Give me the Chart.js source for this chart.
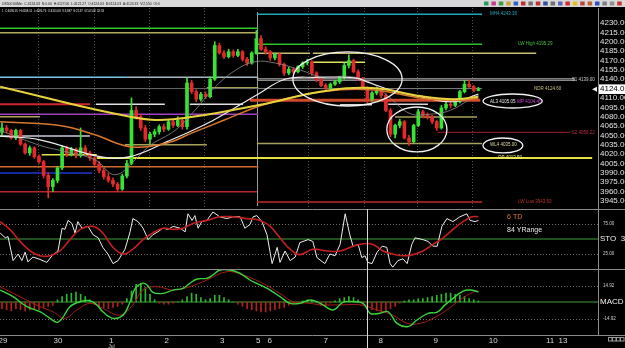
<!DOCTYPE html>
<html lang="en">
<head>
    <meta charset="UTF-8">
    <meta name="viewport" content="width=device-width, initial-scale=1.0">
    <title>US500 60Min</title>
    <script src="https://cdn.jsdelivr.net/npm/chart.js"></script>
    <style>
        body {
            margin: 0;
            background-color: #000;
            width: 625px;
            height: 348px;
            overflow: hidden;
            position: relative;
        }
        canvas {
            position: absolute;
            left: 0;
        }
        #mainChart { top: 0; }
        #stochChart { top: 209px; }
        #macdChart { top: 269px; }
    </style>
</head>
<body>

<canvas id="mainChart" width="625" height="209"></canvas>
<canvas id="stochChart" width="625" height="60"></canvas>
<canvas id="macdChart" width="625" height="79"></canvas>

<script>
    // 60 minute bars, Jun 29 -> Jul 9 (x = bar index on the time axis)
    const opens  = [4055, 4062, 4058, 4046, 4058, 4036, 4022, 4030, 4016, 4008,
                    3986, 3968, 3978, 3998, 4030, 4020, 4028, 4018, 4030, 4022,
                    4014, 4004, 3994, 3984, 3978, 3972, 3964, 3985, 4005, 4090,
                    4080, 4062, 4044, 4052, 4056, 4064, 4060, 4072, 4066, 4074,
                    4064, 4134, 4120, 4108, 4116, 4112, 4140, 4194, 4182, 4176,
                    4184, 4178, 4184, 4172, 4166, 4182, 4205, 4188, 4184, 4174,
                    4180, 4164, 4150, 4156, 4152, 4160, 4166, 4168, 4150, 4140,
                    4130, 4126, 4132, 4136, 4142, 4162, 4170, 4152, 4140, 4126,
                    4108, 4118, 4122, 4114, 4090, 4052, 4066, 4072, 4046, 4040,
                    4066, 4088, 4082, 4080, 4072, 4062, 4094, 4100, 4098, 4104,
                    4120, 4132, 4128, 4122];
    const highs  = [4070, 4066, 4060, 4060, 4060, 4038, 4033, 4032, 4019, 4010,
                    3990, 3981, 4000, 4034, 4033, 4031, 4030, 4062, 4034, 4025,
                    4016, 4008, 3998, 3990, 3982, 3975, 3988, 4010, 4110, 4096,
                    4084, 4066, 4055, 4060, 4067, 4068, 4075, 4075, 4080, 4076,
                    4142, 4138, 4123, 4119, 4120, 4144, 4200, 4198, 4186, 4188,
                    4187, 4188, 4186, 4175, 4184, 4218, 4210, 4192, 4186, 4182,
                    4182, 4166, 4159, 4158, 4162, 4168, 4172, 4170, 4152, 4142,
                    4133, 4134, 4138, 4144, 4166, 4179, 4172, 4155, 4143, 4128,
                    4120, 4127, 4124, 4117, 4093, 4068, 4076, 4074, 4050, 4068,
                    4092, 4090, 4086, 4082, 4074, 4098, 4103, 4104, 4107, 4122,
                    4138, 4139, 4130, 4127];
    const lows   = [4050, 4054, 4044, 4043, 4034, 4020, 4018, 4013, 4005, 3982,
                    3950, 3960, 3974, 3995, 4016, 4017, 4014, 4015, 4019, 4010,
                    4001, 3990, 3980, 3975, 3968, 3960, 3962, 3982, 4003, 4076,
                    4058, 4040, 4036, 4048, 4052, 4056, 4058, 4063, 4064, 4060,
                    4060, 4117, 4104, 4105, 4109, 4110, 4138, 4180, 4173, 4174,
                    4175, 4176, 4169, 4162, 4164, 4180, 4186, 4180, 4170, 4171,
                    4161, 4146, 4147, 4149, 4150, 4157, 4163, 4146, 4136, 4128,
                    4122, 4124, 4130, 4133, 4140, 4158, 4150, 4138, 4124, 4102,
                    4105, 4115, 4110, 4088, 4048, 4046, 4062, 4044, 4034, 4038,
                    4064, 4078, 4076, 4069, 4058, 4060, 4091, 4094, 4096, 4102,
                    4118, 4126, 4120, 4121.27];
    const closes = [4062, 4058, 4046, 4058, 4036, 4022, 4030, 4016, 4008, 3986,
                    3968, 3978, 3998, 4030, 4020, 4028, 4018, 4030, 4022, 4014,
                    4004, 3994, 3984, 3978, 3972, 3964, 3985, 4005, 4090, 4080,
                    4062, 4044, 4052, 4056, 4064, 4060, 4072, 4066, 4074, 4064,
                    4134, 4120, 4108, 4116, 4112, 4140, 4194, 4182, 4176, 4184,
                    4178, 4184, 4172, 4166, 4182, 4205, 4188, 4184, 4174, 4180,
                    4164, 4150, 4156, 4152, 4160, 4166, 4168, 4150, 4140, 4130,
                    4126, 4132, 4136, 4142, 4162, 4170, 4152, 4140, 4126, 4108,
                    4118, 4122, 4114, 4090, 4052, 4066, 4072, 4046, 4040, 4066,
                    4088, 4082, 4080, 4072, 4062, 4094, 4100, 4098, 4104, 4120,
                    4132, 4128, 4122, 4124.03];
    const lastClose = closes[closes.length - 1];

    // moving averages as (bar, price) points
    const maFastX = [-0.4, 8.2, 12.5, 20.1, 24.4, 28.8, 32.0, 37.4, 41.7, 45.6, 50.4, 54.7,
                     59.0, 64.4, 69.8, 74.2, 79.6, 83.9, 88.2, 92.5, 96.9, 101.2, 103.0];
    const maFast  = [4058, 4034, 4026, 4011, 3987, 4011, 4034, 4058, 4090, 4124, 4154, 4168,
                     4166, 4155, 4142, 4145, 4135, 4110, 4085, 4084, 4090, 4108, 4114];
    const maMidX  = [-0.4, 8.2, 21.2, 27.7, 35.7, 45.6, 55.8, 61.2, 67.7, 76.3, 79.6, 83.9, 90.4, 97.5, 103.0];
    const maMid   = [4049, 4043, 4016, 4016, 4040, 4074, 4118, 4140, 4143, 4142, 4134, 4123, 4112, 4104, 4116];
    const maSlowX = [-0.4, 12.5, 20.1, 27.7, 35.7, 41.1, 48.2, 56.9, 69.2, 80.0, 90.4, 97.5, 103.0];
    const maSlow  = [4072, 4066, 4051, 4032, 4038, 4054, 4075, 4100, 4120, 4123, 4110, 4106, 4109];
    const maLongX = [-0.4, 27.7, 37.0, 55.8, 68.8, 80.0, 90.4, 97.5, 103.0];
    const maLong  = [4128, 4080, 4076, 4099, 4120, 4126, 4113, 4108, 4112];

    // stochastic
    const stochKx = [-0.4, 0.7, 1.3, 2.4, 3.5, 4.3, 5.0, 5.6, 6.7, 8.2,
                     9.7, 10.8, 12.1, 13.0, 13.6, 14.3, 15.1, 15.8, 16.4, 17.3,
                     18.6, 19.7, 20.8, 21.8, 22.9, 24.0, 25.1, 26.6, 27.7, 28.3,
                     29.4, 30.5, 31.6, 32.6, 33.7, 34.8, 35.9, 37.0, 38.5, 39.6,
                     40.2, 41.1, 41.7, 42.4, 43.2, 44.3, 45.6, 47.1, 48.6, 49.9,
                     51.5, 52.5, 53.6, 54.3, 55.1, 56.2, 57.3, 58.4, 59.5, 60.1,
                     61.2, 62.3, 63.4, 64.4, 66.2, 67.2, 68.1, 69.8, 70.9, 72.0,
                     73.1, 74.2, 75.2, 75.9, 77.0, 77.8, 78.5, 79.1, 80.0, 81.1,
                     82.2, 83.2, 83.9, 84.5, 85.6, 86.7, 87.6, 88.6, 89.3, 91.0,
                     92.1, 93.2, 94.1, 95.1, 96.2, 97.5, 99.0, 100.5, 101.2, 102.3, 103.0];
    const stochK  = [60, 52, 54, 14, 25, 14, 28, 12, 20, 16,
                     11, 22, 30, 68, 66, 81, 76, 60, 79, 68,
                     71, 57, 52, 36, 25, 9, 14, 33, 62, 84,
                     79, 68, 49, 57, 62, 68, 66, 71, 68, 62,
                     92, 81, 89, 68, 79, 81, 95, 87, 84, 87,
                     87, 68, 74, 87, 89, 79, 57, 9, 36, 11,
                     30, 14, 20, 44, 49, 46, 19, 9, 25, 22,
                     41, 92, 57, 38, 41, 19, 22, 11, 9, 28,
                     38, 36, 9, 3, 14, 17, 9, 41, 52, 49,
                     46, 38, 38, 71, 84, 79, 87, 92, 81, 79, 81];
    const stochDx = [-0.4, 1.7, 3.9, 6.1, 8.2, 10.4, 12.5, 14.7, 16.9, 19.7,
                     21.8, 24.0, 26.2, 28.3, 30.5, 32.6, 34.8, 37.0, 39.1, 41.3,
                     44.3, 47.1, 49.9, 53.0, 55.8, 58.0, 60.1, 62.3, 64.4, 67.2,
                     70.3, 73.1, 75.9, 78.1, 80.2, 82.4, 84.5, 86.7, 88.9, 91.0,
                     93.2, 95.4, 97.5, 99.7, 101.6, 103.0];
    const stochD  = [79, 66, 46, 30, 22, 22, 30, 49, 66, 71,
                     60, 36, 25, 33, 49, 60, 68, 66, 68, 76,
                     81, 87, 87, 84, 81, 71, 52, 33, 24, 33,
                     30, 30, 38, 42, 41, 30, 25, 22, 24, 30,
                     41, 52, 66, 79, 87, 87];

    // MACD
    const macdX   = [-0.4, 2.4, 5.4, 8.2, 10.4, 11.9, 13.0, 14.7, 16.9, 19.0,
                     20.5, 21.8, 24.0, 26.2, 27.7, 28.8, 30.3, 31.4, 32.6, 34.8,
                     37.0, 39.1, 40.6, 42.2, 44.3, 45.6, 47.1, 49.3, 51.5, 53.6,
                     55.8, 58.0, 60.1, 62.3, 64.4, 66.6, 68.8, 71.6, 73.7, 75.9,
                     78.1, 79.6, 81.7, 83.5, 85.4, 87.8, 89.7, 92.1, 94.1, 95.8,
                     97.5, 99.7, 101.2, 103.0];
    const macd    = [10.8, 4.8, -4.2, -8.8, -14.8, -18.4, -14.8, -4.2, 0.3, 1.1,
                     -2.6, -8.8, -14.8, -11.8, 0.3, 12.4, 16.9, 15.4, 8.8, 7.8,
                     10.8, 12.4, 16.9, 20.8, 21.4, 24.4, 28.9, 28.9, 25.9, 19.9,
                     15.4, 10.8, 4.8, -1.2, -1.2, 1.8, -1.2, -7.2, -0.3, 0.3,
                     -1.2, -10.2, -10.2, -8.8, -19.3, -22.3, -16.3, -10.2, -9.2, -2.6,
                     3.3, 9.9, 10.8, 9.3];
    const signalX = [-0.4, 3.9, 8.2, 11.0, 13.6, 16.2, 19.0, 21.8, 25.5, 28.3,
                     30.5, 33.5, 37.0, 40.6, 44.3, 48.6, 52.1, 56.4, 60.1, 62.9,
                     66.6, 68.8, 73.1, 77.4, 81.1, 84.5, 87.6, 90.4, 93.2, 96.2,
                     99.0, 101.8, 103.0];
    const signal  = [13.8, 4.8, -4.2, -8.8, -14.8, -7.2, -1.2, -5.7, -11.8, -2.6,
                     10.8, 13.8, 10.8, 13.8, 19.9, 27.4, 24.4, 16.9, 7.8, 0.3,
                     -1.2, -2.6, -2.6, -2.6, -7.2, -11.8, -19.3, -19.3, -14.8, -7.2,
                     1.8, 8.8, 10];
    const macdHist = [-6, -7, -8, -6, -7, -8, -7, -6, -7, -5,
                      -4, -3, 2, 5, 7, 8, 9, 7, 5, 2,
                      -2, -4, -5, -6, -5, -4, -2, 3, 10, 16,
                      17, 13, 7, 2, -1, -2, -2, -1, 0, 2,
                      5, 8, 7, 4, 2, 3, 6, 6, 4, 2,
                      0, -2, -4, -6, -7, -8, -9, -9, -8, -7,
                      -6, -5, -3, -2, -1, 1, 2, 1, -1, -3,
                      -3, -1, 1, 3, 4, 5, 4, 2, -2, -5,
                      -7, -8, -9, -8, -6, -4, -1, 1, 2, 2,
                      3, 3, 4, 5, 6, 7, 8, 8, 7, 6,
                      5, 3, 2, 1];

    // drawn price levels: price, first bar, last bar
    const levelPrices = [4221.5, 4214.5, 4143, 4143, 4125, 4100, 4100, 4084, 4080, 4049,
                         4019, 4014, 4000, 3990, 3960, 3943.5, 4100, 4126, 4035, 4244,
                         4196, 4181.5, 4181.5, 4167, 4140.5, 4138, 4125, 4106.5, 4079.6, 4055,
                         4037, 4099, 4100];
    const levelFrom   = [-0.5, -0.5, -0.5, 27.0, -0.5, -0.5, 20.3, -0.5, -0.5, -0.5,
                         8.6, 20.5, -0.5, -0.5, -0.5, 55.1, 40.6, 44.3, 26.6, 55.1,
                         54.7, 54.7, 67.2, 67.2, 55.1, 55.1, 55.1, 53.6, 85.0, 94.1,
                         55.1, 73.1, 83.5];
    const levelTo     = [55.4, 55.4, 27.0, 55.4, 55.4, 19.0, 35.2, 55.4, 8.2, 19.0,
                         20.5, 127.6, 55.4, 19.5, 55.1, 103.8, 52.1, 55.4, 44.3, 103.8,
                         103.8, 66.6, 115.5, 78.5, 123.9, 123.9, 103.8, 103.4, 102.7, 122.8,
                         103.8, 80.0, 92.1];
    const levelStyles = [['#2ec82e', 1.5], ['#b4ac5c', 1.5], ['#78c8e6', 1.5], ['#a8b8c0', 1.5], ['#686868', 1],
                         ['#d02828', 2], ['#e0e0e0', 1.5], ['#a040c0', 1.5], ['#b0a460', 1.5], ['#c8ccdc', 1.5],
                         ['#e6e040', 1.5], ['#e6e040', 2], ['#d06a30', 1.5], ['#1c34d0', 1.5], ['#b42828', 1.5],
                         ['#c02828', 1.5], ['#e0e0e0', 1.5], ['#d8d070', 1.5], ['#a8a058', 1.5], ['#20a8b8', 1.5],
                         ['#30c030', 1.5], ['#c8c070', 1.5], ['#c8c070', 1.5], ['#e0e060', 1.5], ['#d0d0d0', 1],
                         ['#909090', 1], ['#808080', 1], ['#d04a2a', 3], ['#a8a058', 1.5], ['#a02030', 1],
                         ['#a8a060', 1.5], ['#d8d8d8', 1.5], ['#d8d8d8', 1.5]];

    // level tags and circled areas
    const tagText   = ['MH4 4243.36', 'LW High 4195.29', 'S1 4139.00', 'NDR 4124.60', 'AL3 4105.05',
                       'MP 4104.45', 'S2 4056.22', 'WL4 4035.00', 'DP 4013.50', 'LW Low 3943.50'];
    const tagBar    = [105.5, 111.6, 123.2, 115.0, 105.5, 111.4, 123.2, 105.5, 107.3, 111.6];
    const tagPrice  = [4244, 4196, 4139, 4125, 4104.5, 4104.5, 4055, 4035, 4014, 3943.5];
    const tagColors = ['#20a8b8', '#40c040', '#c8c8c8', '#c8c080', '#e8e8e8',
                       '#d040d0', '#c03040', '#e0d8a0', '#f0f080', '#c03030'];
    const ellipses  = [[62.9, 86.5, 4183.6, 4097.1], [83.2, 96.2, 4095.5, 4023.5],
                       [104.0, 116.8, 4116.3, 4093.9], [104.0, 112.6, 4045.9, 4021.9]];

    // time axis
    const dayTicks   = [0.2, 12.1, 23.6, 35.6, 47.6, 55.4, 57.9, 70.0, 81.9, 93.8, 106.2, 118.5, 121.3];
    const dayLabels  = ['29', '30', '1', '2', '3', '5', '6', '7', '8', '9', '10', '11', '13'];
    const gridBars   = [8.0, 19.9, 32.0, 43.7, 66.2, 78.3, 89.9, 101.8];
    const priceTicks = [4230, 4215, 4200, 4185, 4170, 4155, 4140, 4124.03, 4110, 4095,
                        4080, 4065, 4050, 4035, 4020, 4005, 3990, 3975, 3960, 3945];

    const titleLine = 'US500 60Min  C:4124.03  N:0.00  H:4127.00  L:4121.27  O:4124.03  B:4124.03  A:4124.33  V:2,550  OI:0';
    const infoLine  = '1  C:4096.55  H:4108.51  L:4095.76  O:4101.08  V:3,887  S:21.97  07-07-08  42:53';

    const X_MIN = -0.43, X_MAX = 128.86;
    const SESSION_BAR = 55.1;
    const CROSS_BAR = 78.9;
    const AXIS_W = 27;

    const zip = (xs, ys) => xs.map((x, i) => ({x: x, y: ys[i]}));
    const candleColor = ctx => closes[ctx.dataIndex] >= opens[ctx.dataIndex] ? '#36e336' : '#e52a2a';

    function hline(ctx, x1, x2, y, color, width, dash) {
        ctx.save();
        ctx.strokeStyle = color;
        ctx.lineWidth = width;
        ctx.setLineDash(dash || []);
        ctx.beginPath();
        ctx.moveTo(x1, y);
        ctx.lineTo(x2, y);
        ctx.stroke();
        ctx.restore();
    }
    function vline(ctx, x, y1, y2, color, width) {
        ctx.save();
        ctx.strokeStyle = color;
        ctx.lineWidth = width;
        ctx.beginPath();
        ctx.moveTo(x, y1);
        ctx.lineTo(x, y2);
        ctx.stroke();
        ctx.restore();
    }
    function label(ctx, str, x, y, color, font) {
        ctx.save();
        ctx.font = font;
        ctx.fillStyle = color;
        ctx.textBaseline = 'middle';
        ctx.fillText(str, x, y);
        ctx.restore();
    }
    const rightAxis = s => { s.width = AXIS_W; s.paddingTop = 0; s.paddingBottom = 0; };

    // ---------- price panel ----------
    const mainDecor = {
        id: 'mainDecor',
        beforeDatasetsDraw(chart) {
            const {ctx, chartArea: a, scales: {x}} = chart;
            vline(ctx, Math.round(x.getPixelForValue(SESSION_BAR)) + 0.5, a.top + 4, a.bottom - 3, '#9c9c9c', 1);
        },
        afterDatasetsDraw(chart) {
            const {ctx, scales: {x, y}} = chart;
            ctx.save();
            ctx.strokeStyle = '#f2f2f2';
            ctx.lineWidth = 1.3;
            ellipses.forEach(([b1, b2, p1, p2]) => {
                const x1 = x.getPixelForValue(b1), x2 = x.getPixelForValue(b2);
                const y1 = y.getPixelForValue(p1), y2 = y.getPixelForValue(p2);
                ctx.beginPath();
                ctx.ellipse((x1 + x2) / 2, (y1 + y2) / 2, (x2 - x1) / 2, (y2 - y1) / 2, 0, 0, Math.PI * 2);
                ctx.stroke();
            });
            ctx.restore();
            tagText.forEach((t, i) => {
                label(ctx, t, x.getPixelForValue(tagBar[i]), y.getPixelForValue(tagPrice[i]), tagColors[i], '4.5px Arial');
            });
        },
        afterDraw(chart) {
            const {ctx, chartArea: a, scales: {y}} = chart;
            ctx.save();
            ctx.fillStyle = '#d8d8d8';
            ctx.fillRect(0, 0, chart.width, 7);
            ctx.font = '4px Arial';
            ctx.textBaseline = 'middle';
            ctx.fillStyle = '#1a1a1a';
            ctx.fillText(titleLine, 2, 3.6, 158);
            ctx.fillStyle = '#e8e8e8';
            ctx.fillText(infoLine, 2, 11, 102);
            // toolbar buttons
            const tools = ['#2a9a5a', '#c04090', '#3aa03a', '#d0a030', '#3060c0', '#c03030', '#707070', '#c03030',
                           '#3050a0', '#707070', '#6060c0', '#d03030', '#e0c020', '#c04040', '#c06030', '#3050c0',
                           '#808080', '#909090', '#d03030'];
            tools.forEach((c, i) => {
                ctx.fillStyle = c;
                ctx.fillRect(484 + i * 7.4, 1.5, 4.5, 4);
            });
            // last price marker
            const py = y.getPixelForValue(lastClose);
            ctx.fillStyle = '#f0f0f0';
            ctx.beginPath();
            ctx.moveTo(a.right - 6, py);
            ctx.lineTo(a.right - 1, py - 2.5);
            ctx.lineTo(a.right - 1, py + 2.5);
            ctx.fill();
            ctx.restore();
        }
    };

    const levelSets = levelPrices.map((p, i) => ({
        type: 'line',
        data: [{x: levelFrom[i], y: p}, {x: levelTo[i], y: p}],
        borderColor: levelStyles[i][0],
        borderWidth: levelStyles[i][1],
        pointRadius: 0,
        order: 3
    }));

    const maLine = (xs, ys, color, width) => ({
        type: 'line',
        data: zip(xs, ys),
        borderColor: color,
        borderWidth: width,
        pointRadius: 0,
        tension: 0.4,
        order: 1
    });

    new Chart(document.getElementById('mainChart'), {
        type: 'bar',
        data: {
            datasets: [
                ...levelSets,
                {
                    type: 'bar',
                    data: closes.map((c, i) => ({x: i, y: [lows[i], highs[i]]})),
                    backgroundColor: candleColor,
                    barThickness: 1,
                    grouped: false,
                    order: 2
                },
                {
                    type: 'bar',
                    data: closes.map((c, i) => ({x: i, y: [opens[i], c]})),
                    backgroundColor: candleColor,
                    barThickness: 3,
                    minBarLength: 1,
                    grouped: false,
                    order: 2
                },
                maLine(maLongX, maLong, '#e6d23c', 2),
                maLine(maSlowX, maSlow, '#d9782c', 1.5),
                maLine(maMidX, maMid, '#ececec', 1.2),
                maLine(maFastX, maFast, '#8c8c8c', 0.8)
            ]
        },
        options: {
            responsive: false,
            animation: false,
            devicePixelRatio: 1,
            layout: { padding: { top: 8 } },
            plugins: { legend: { display: false }, tooltip: { enabled: false } },
            scales: {
                x: {
                    type: 'linear',
                    min: X_MIN,
                    max: X_MAX,
                    offset: false,
                    grid: { color: '#505050', lineWidth: 1, drawTicks: false, offset: false },
                    border: { display: false, dash: [1, 2] },
                    ticks: { display: false },
                    afterBuildTicks: s => { s.ticks = gridBars.map(v => ({value: v})); },
                    afterFit: s => { s.height = 0; s.paddingLeft = 0; s.paddingRight = 0; }
                },
                y: {
                    position: 'right',
                    min: 3932.2,
                    max: 4254,
                    grid: { display: false, drawTicks: false },
                    border: { display: true, color: '#8c8c8c', width: 1 },
                    afterBuildTicks: s => { s.ticks = priceTicks.map(v => ({value: v})); },
                    afterFit: rightAxis,
                    ticks: {
                        autoSkip: false,
                        padding: 2,
                        font: { family: 'Arial', size: 8 },
                        color: ctx => ctx.tick.value === lastClose ? '#000' : '#e2e2e2',
                        showLabelBackdrop: ctx => ctx.tick.value === lastClose,
                        backdropColor: '#ffffff',
                        backdropPadding: { left: 1, right: 3, top: 0, bottom: 0 },
                        callback: v => v.toFixed(2)
                    }
                }
            }
        },
        plugins: [mainDecor]
    });

    // ---------- stochastic panel ----------
    const stochDecor = {
        id: 'stochDecor',
        beforeDatasetsDraw(chart) {
            const {ctx, chartArea: a, scales: {y}} = chart;
            hline(ctx, 0, a.right, Math.round(y.getPixelForValue(75)) + 0.5, '#6e6e6e', 1, [1, 2]);
            hline(ctx, 0, a.right, Math.round(y.getPixelForValue(25)) + 0.5, '#6e6e6e', 1, [1, 2]);
            hline(ctx, 0, a.right, y.getPixelForValue(50), '#2a6a2a', 1.6);
        },
        afterDraw(chart) {
            const {ctx, chartArea: a, scales: {x, y}} = chart;
            hline(ctx, 0, chart.width, 0.5, '#8a8a8a', 1);
            vline(ctx, Math.round(x.getPixelForValue(CROSS_BAR)) + 0.5, 0, chart.height, '#d8d8d8', 1);
            label(ctx, '75.00', a.right + 5, y.getPixelForValue(75), '#cfcfcf', '4.5px Arial');
            label(ctx, '25.00', a.right + 5, y.getPixelForValue(25), '#cfcfcf', '4.5px Arial');
            label(ctx, 'STO  30', a.right + 2, y.getPixelForValue(50), '#f0f0f0', '8px Arial');
            label(ctx, '6 TD', x.getPixelForValue(109.2), y.getPixelForValue(86), '#e07a3a', '7px Arial');
            label(ctx, '84 YRange', x.getPixelForValue(109.2), y.getPixelForValue(65), '#e8e8e8', '7px Arial');
        }
    };

    new Chart(document.getElementById('stochChart'), {
        type: 'line',
        data: {
            datasets: [
                { data: zip(stochDx, stochD), borderColor: '#c41e1e', borderWidth: 1.6, pointRadius: 0, tension: 0.4 },
                { data: zip(stochKx, stochK), borderColor: '#ededed', borderWidth: 1, pointRadius: 0, tension: 0 }
            ]
        },
        options: {
            responsive: false,
            animation: false,
            devicePixelRatio: 1,
            plugins: { legend: { display: false }, tooltip: { enabled: false } },
            scales: {
                x: { type: 'linear', min: X_MIN, max: X_MAX, display: false },
                y: {
                    position: 'right',
                    min: 0,
                    max: 100,
                    grid: { display: false, drawTicks: false },
                    border: { display: true, color: '#8c8c8c', width: 1 },
                    ticks: { display: false },
                    afterFit: rightAxis
                }
            }
        },
        plugins: [stochDecor]
    });

    // ---------- MACD panel ----------
    const macdDecor = {
        id: 'macdDecor',
        beforeDatasetsDraw(chart) {
            const {ctx, chartArea: a, scales: {y}} = chart;
            hline(ctx, 0, a.right, Math.round(y.getPixelForValue(14.92)) + 0.5, '#6e6e6e', 1, [1, 2]);
            hline(ctx, 0, a.right, Math.round(y.getPixelForValue(-14.92)) + 0.5, '#6e6e6e', 1, [1, 2]);
            hline(ctx, 0, a.right, y.getPixelForValue(0), '#2a6a2a', 1.6);
        },
        afterDraw(chart) {
            const {ctx, chartArea: a, scales: {x, y}} = chart;
            hline(ctx, 0, chart.width, 0.5, '#8a8a8a', 1);
            hline(ctx, 0, chart.width, a.bottom + 0.5, '#8a8a8a', 1);
            vline(ctx, Math.round(x.getPixelForValue(CROSS_BAR)) + 0.5, 0, chart.height, '#d8d8d8', 1);
            label(ctx, '14.92', a.right + 5, y.getPixelForValue(14.92), '#cfcfcf', '4.5px Arial');
            label(ctx, '-14.92', a.right + 5, y.getPixelForValue(-14.92), '#cfcfcf', '4.5px Arial');
            label(ctx, 'MACD  1', a.right + 2, y.getPixelForValue(0), '#f0f0f0', '8px Arial');
            label(ctx, 'Jul', x.getPixelForValue(dayTicks[2]) - 3, a.bottom + 11.5, '#cfcfcf', '5px Arial');
            ctx.save();
            ctx.strokeStyle = '#9a9a9a';
            ctx.lineWidth = 1;
            for (let i = 0; i < 4; i++) {
                ctx.strokeRect(a.right + 10.5 + i * 4, a.bottom + 2.5, 3.5, 3.5);
            }
            ctx.restore();
        }
    };

    new Chart(document.getElementById('macdChart'), {
        type: 'bar',
        data: {
            datasets: [
                {
                    type: 'bar',
                    data: macdHist.map((v, i) => ({x: i, y: v})),
                    backgroundColor: macdHist.map(v => v >= 0 ? '#2fb82f' : '#b52020'),
                    barThickness: 1,
                    order: 3
                },
                { type: 'line', data: zip(signalX, signal), borderColor: '#a81c1c', borderWidth: 1, pointRadius: 0, tension: 0.4, order: 2 },
                { type: 'line', data: zip(macdX, macd), borderColor: '#3ad43a', borderWidth: 1.4, pointRadius: 0, tension: 0.4, order: 1 }
            ]
        },
        options: {
            responsive: false,
            animation: false,
            devicePixelRatio: 1,
            plugins: { legend: { display: false }, tooltip: { enabled: false } },
            scales: {
                x: {
                    type: 'linear',
                    min: X_MIN,
                    max: X_MAX,
                    offset: false,
                    grid: { display: false, drawTicks: false, offset: false },
                    border: { display: false },
                    afterBuildTicks: s => { s.ticks = dayTicks.map(v => ({value: v})); },
                    afterFit: s => { s.height = 13; s.paddingLeft = 0; s.paddingRight = 0; },
                    ticks: {
                        autoSkip: false,
                        maxRotation: 0,
                        minRotation: 0,
                        padding: 1,
                        color: '#d8d8d8',
                        font: { family: 'Arial', size: 8 },
                        callback: (v, i) => dayLabels[i]
                    }
                },
                y: {
                    position: 'right',
                    min: -29.84,
                    max: 29.84,
                    grid: { display: false, drawTicks: false },
                    border: { display: true, color: '#8c8c8c', width: 1 },
                    ticks: { display: false },
                    afterFit: rightAxis
                }
            }
        },
        plugins: [macdDecor]
    });
</script>

</body>
</html>
